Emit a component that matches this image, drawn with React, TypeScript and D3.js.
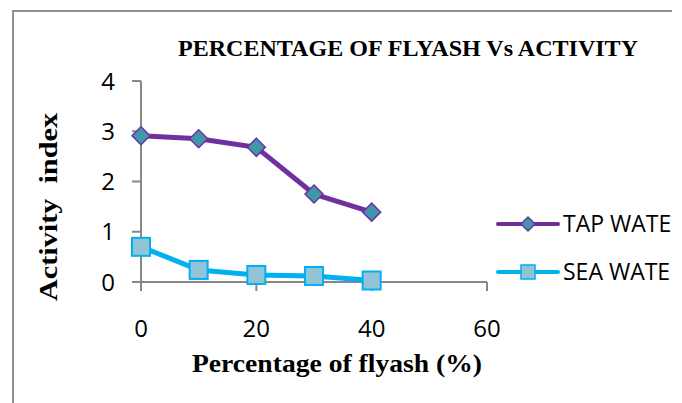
import React from "react";
import * as d3 from "d3";

const title = "PERCENTAGE OF FLYASH Vs ACTIVITY";
const xAxisTitle = "Percentage of flyash (%)";
const yAxisTitle = "Activity  index";
const flyashPercent = [0, 10, 20, 30, 40];
const tapWater = [2.91, 2.85, 2.68, 1.75, 1.39];
const seaWater = [0.7, 0.24, 0.14, 0.12, 0.03];
const xTicks = [0, 20, 40, 60];
const yTicks = [0, 1, 2, 3, 4];
const seriesNames = ["TAP WATE", "SEA WATE"];

const W = 682;
const H = 403;
const axisColor = "#878787";
const tapLine = "#7030A0";
const tapFill = "#3F97AA";
const seaLine = "#00B0F0";
const seaFill = "#93C3D6";
const sans = "'Open Sans', 'Liberation Sans', sans-serif";
const serif = "'Liberation Serif', 'DejaVu Serif', serif";

export default function App() {
  const x = d3.scaleLinear().domain([0, 60]).range([141, 487]);
  const y = d3.scaleLinear().domain([0, 4]).range([282, 81]);
  const line = d3
    .line<number>()
    .x((_, i) => x(flyashPercent[i]))
    .y((d) => y(d));

  const diamond = (cx: number, cy: number, r: number) =>
    `M${cx},${cy - r}L${cx + r},${cy}L${cx},${cy + r}L${cx - r},${cy}Z`;

  const legendY = [224, 272];
  const legendX0 = 498;
  const legendX1 = 558;
  const legendMid = (legendX0 + legendX1) / 2;

  return (
    <svg
      width={W}
      height={H}
      viewBox={`0 0 ${W} ${H}`}
      style={{ position: "absolute", left: 0, top: 0, background: "#fff" }}
    >
      <rect x={0} y={0} width={W} height={H} fill="#fff" />
      {/* frame */}
      <path d={`M13,${H}V11H672`} fill="none" stroke="#8f8f8f" strokeWidth={2} />

      {/* title */}
      <text
        x={408}
        y={56}
        textAnchor="middle"
        fontFamily={serif}
        fontWeight="bold"
        fontSize={24}
        textLength={460}
        lengthAdjust="spacingAndGlyphs"
        fill="#000"
      >
        {title}
      </text>

      {/* y axis */}
      <line x1={x(0)} x2={x(0)} y1={y(4)} y2={y(0)} stroke={axisColor} strokeWidth={2} />
      {yTicks.map((t) => (
        <g key={`y${t}`}>
          <line x1={x(0) - 9} x2={x(0)} y1={y(t)} y2={y(t)} stroke={axisColor} strokeWidth={2} />
          <text
            x={115}
            y={y(t)}
            dy="0.36em"
            textAnchor="end"
            fontFamily={sans}
            fontSize={24}
            fill="#000"
          >
            {t}
          </text>
        </g>
      ))}

      {/* x axis */}
      <line x1={x(0) - 9} x2={x(60)} y1={y(0)} y2={y(0)} stroke={axisColor} strokeWidth={2} />
      {xTicks.map((t) => (
        <g key={`x${t}`}>
          <line x1={x(t)} x2={x(t)} y1={y(0)} y2={y(0) + 9} stroke={axisColor} strokeWidth={2} />
          <text
            x={x(t)}
            y={337}
            textAnchor="middle"
            fontFamily={sans}
            fontSize={24}
            fill="#000"
          >
            {t}
          </text>
        </g>
      ))}

      {/* axis titles */}
      <text
        x={337}
        y={372}
        textAnchor="middle"
        fontFamily={serif}
        fontWeight="bold"
        fontSize={25}
        textLength={290}
        lengthAdjust="spacingAndGlyphs"
        fill="#000"
      >
        {xAxisTitle}
      </text>
      <text
        transform="translate(57,207) rotate(-90)"
        textAnchor="middle"
        fontFamily={serif}
        fontWeight="bold"
        fontSize={25}
        textLength={188}
        lengthAdjust="spacingAndGlyphs"
        style={{ whiteSpace: "pre" }}
        fill="#000"
      >
        {yAxisTitle}
      </text>

      {/* series lines */}
      <path d={line(tapWater) || ""} fill="none" stroke={tapLine} strokeWidth={5} strokeLinejoin="round" />
      <path d={line(seaWater) || ""} fill="none" stroke={seaLine} strokeWidth={5} strokeLinejoin="round" />

      {/* markers */}
      {tapWater.map((v, i) => (
        <path
          key={`t${i}`}
          d={diamond(x(flyashPercent[i]), y(v), 9)}
          fill={tapFill}
          stroke={tapLine}
          strokeWidth={1.5}
        />
      ))}
      {seaWater.map((v, i) => (
        <rect
          key={`s${i}`}
          x={x(flyashPercent[i]) - 9}
          y={y(v) - 9}
          width={18}
          height={18}
          fill={seaFill}
          stroke={seaLine}
          strokeWidth={2}
        />
      ))}

      {/* legend */}
      <g>
        <line x1={legendX0} x2={legendX1} y1={legendY[0]} y2={legendY[0]} stroke={tapLine} strokeWidth={4} strokeLinecap="round" />
        <path d={diamond(legendMid, legendY[0], 7)} fill={tapFill} stroke={tapLine} strokeWidth={1.5} />
        <text x={563} y={legendY[0]} dy="0.36em" fontFamily={sans} fontSize={23} fill="#000">
          {seriesNames[0]}
        </text>
        <line x1={legendX0} x2={legendX1} y1={legendY[1]} y2={legendY[1]} stroke={seaLine} strokeWidth={4} strokeLinecap="round" />
        <rect x={legendMid - 7} y={legendY[1] - 7} width={14} height={14} fill={seaFill} stroke={seaLine} strokeWidth={1.5} />
        <text x={563} y={legendY[1]} dy="0.36em" fontFamily={sans} fontSize={23} fill="#000">
          {seriesNames[1]}
        </text>
      </g>
    </svg>
  );
}
